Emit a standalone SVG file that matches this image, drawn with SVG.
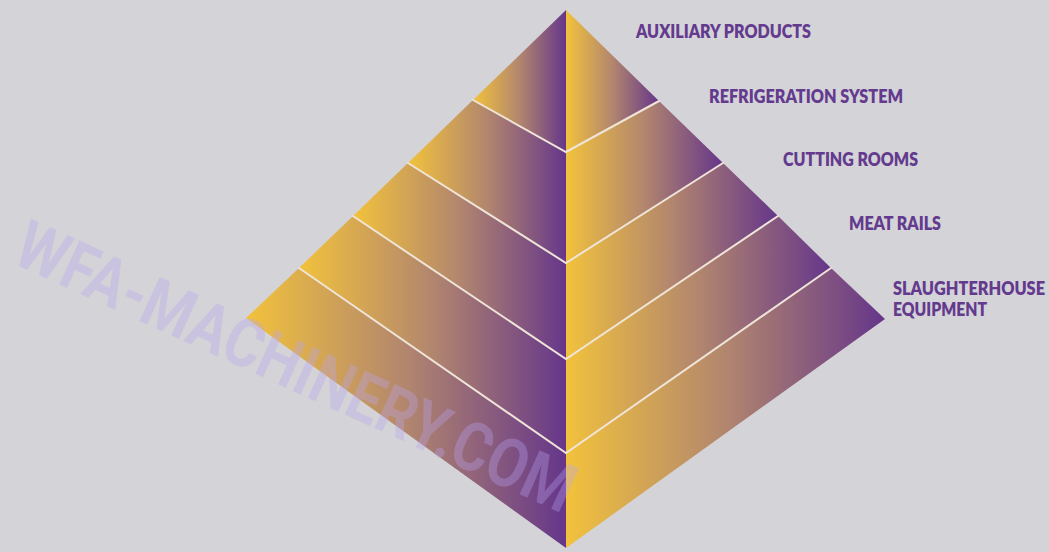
<svg xmlns="http://www.w3.org/2000/svg" width="1049" height="552" viewBox="0 0 1049 552">
  <defs>
    <linearGradient id="g" x1="0" y1="0" x2="1" y2="0">
      <stop offset="0" stop-color="#f2c23c"/>
      <stop offset="0.5" stop-color="#b2866e"/>
      <stop offset="1" stop-color="#65368a"/>
    </linearGradient>
    <style>
      .band { fill: url(#g); }
      .sep { stroke: #efe4d8; stroke-width: 2; fill: none; stroke-linecap: round; }
      .lbl { font-family: Lato, "Liberation Sans", sans-serif; font-weight: 800; font-size: 18px; fill: #633a8e; }
      .wm { font-family: Roboto, "Liberation Sans", sans-serif; font-weight: 700; font-size: 68px; fill: #b8a5f2; fill-opacity: 0.34; }
    </style>
  </defs>
  <rect width="1049" height="552" fill="#d4d3d7"/>

  <g id="level1">
    <polygon class="band" points="566,10 473,100 566,152"/>
    <polygon class="band" points="566,10 566,152 659,101"/>
  </g>
  <g id="level2">
    <polygon class="band" points="473,100 408,163 566,263 566,152"/>
    <polygon class="band" points="566,152 566,263 723,163 659,101"/>
  </g>
  <g id="level3">
    <polygon class="band" points="408,163 353,216 566,359 566,263"/>
    <polygon class="band" points="566,263 566,359 778,216 723,163"/>
  </g>
  <g id="level4">
    <polygon class="band" points="353,216 299,268 566,453 566,359"/>
    <polygon class="band" points="566,359 566,453 831,268 778,216"/>
  </g>
  <g id="level5">
    <polygon class="band" points="299,268 246,318 566,548 566,453"/>
    <polygon class="band" points="566,453 566,548 885,319 831,268"/>
  </g>

  <g id="connectors">
    <polyline class="sep" points="473,100 566,152 659,101"/>
    <polyline class="sep" points="408,163 566,263 723,163"/>
    <polyline class="sep" points="353,216 566,359 778,216"/>
    <polyline class="sep" points="299,268 566,453 831,268"/>
  </g>

  <g id="label-auxiliary"><text class="lbl" x="636" y="38" textLength="175" lengthAdjust="spacingAndGlyphs">AUXILIARY PRODUCTS</text></g>
  <g id="label-refrigeration"><text class="lbl" x="709" y="103" textLength="194" lengthAdjust="spacingAndGlyphs">REFRIGERATION SYSTEM</text></g>
  <g id="label-cutting"><text class="lbl" x="783" y="166" textLength="135" lengthAdjust="spacingAndGlyphs">CUTTING ROOMS</text></g>
  <g id="label-meat"><text class="lbl" x="849" y="230" textLength="92" lengthAdjust="spacingAndGlyphs">MEAT RAILS</text></g>
  <g id="label-slaughter">
    <text class="lbl" x="893" y="295" textLength="152" lengthAdjust="spacingAndGlyphs">SLAUGHTERHOUSE</text>
    <text class="lbl" x="893" y="316" textLength="94" lengthAdjust="spacingAndGlyphs">EQUIPMENT</text>
  </g>

  <text class="wm" transform="translate(10,262) rotate(24.5)" x="0" y="0" textLength="607" lengthAdjust="spacingAndGlyphs">WFA-MACHINERY.COM</text>
</svg>
